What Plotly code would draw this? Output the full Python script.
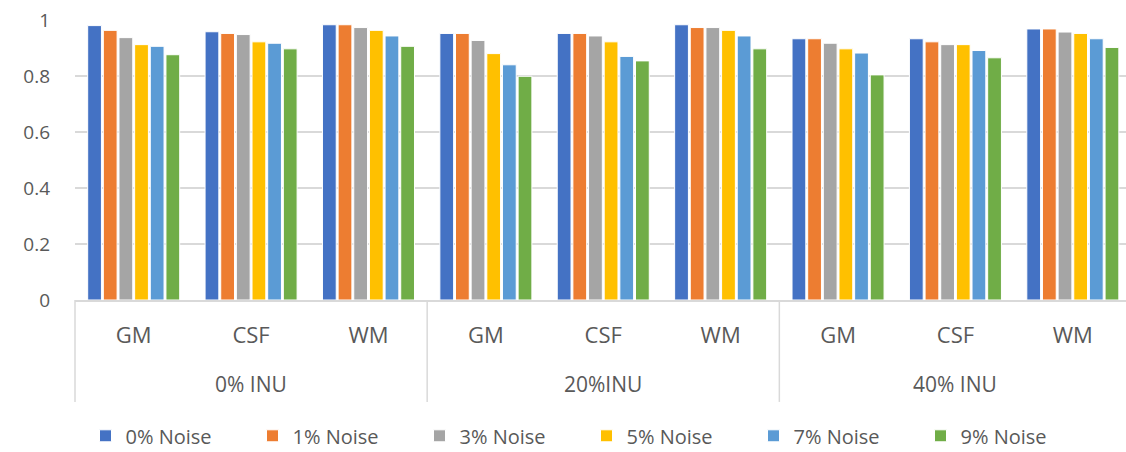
import plotly.graph_objects as go

# Tissue classes within each intensity-nonuniformity (INU) level
inu_levels = ["0% INU", "20%INU", "40% INU"]
tissues = ["GM", "CSF", "WM"]

noise_labels = ["0% Noise", "1% Noise", "3% Noise", "5% Noise", "7% Noise", "9% Noise"]

# Scores per noise level, ordered INU level -> tissue (GM, CSF, WM)
noise_0 = [0.980, 0.958, 0.983, 0.952, 0.952, 0.983, 0.933, 0.933, 0.968]
noise_1 = [0.963, 0.952, 0.983, 0.952, 0.952, 0.973, 0.933, 0.922, 0.968]
noise_3 = [0.937, 0.948, 0.973, 0.927, 0.943, 0.973, 0.917, 0.912, 0.957]
noise_5 = [0.912, 0.922, 0.963, 0.880, 0.922, 0.963, 0.897, 0.912, 0.952]
noise_7 = [0.906, 0.917, 0.943, 0.840, 0.870, 0.943, 0.882, 0.891, 0.933]
noise_9 = [0.876, 0.897, 0.906, 0.799, 0.854, 0.897, 0.804, 0.865, 0.902]

series = [noise_0, noise_1, noise_3, noise_5, noise_7, noise_9]
colors = ["#4472C4", "#ED7D31", "#A5A5A5", "#FFC000", "#5B9BD5", "#70AD47"]

TEXT = "#595959"
GRID = "#d9d9d9"
FONT = "Open Sans"

n_cat = len(inu_levels) * len(tissues)
x_pos = list(range(n_cat))
x_text = [t for _ in inu_levels for t in tissues]
x_range = [-0.5, 8.453]

fig = go.Figure()
for name, vals, col in zip(noise_labels, series, colors):
    fig.add_trace(go.Bar(
        x=x_pos, y=vals, name=name,
        marker=dict(color=col, line=dict(color="white", width=1)),
    ))


def to_paper(xv):
    return (xv - x_range[0]) / (x_range[1] - x_range[0])


shapes = []
for g in range(len(inu_levels)):
    xv = g * len(tissues) - 0.5
    px = to_paper(xv)
    shapes.append(dict(type="line", xref="paper", yref="paper",
                       x0=px, x1=px, y0=0, y1=-0.364,
                       line=dict(color=GRID, width=1.5)))

annotations = []
for g, lvl in enumerate(inu_levels):
    annotations.append(dict(
        x=g * len(tissues) + 1, xref="x", y=-0.3, yref="paper",
        text=lvl, showarrow=False, yanchor="middle",
        font=dict(family=FONT, size=21, color=TEXT),
    ))

fig.update_layout(
    width=1126, height=452,
    margin=dict(l=75, r=0, t=20, b=152, autoexpand=False),
    paper_bgcolor="white", plot_bgcolor="white",
    barmode="group", bargap=0.2, bargroupgap=0.12,
    font=dict(family=FONT, color=TEXT),
    shapes=shapes, annotations=annotations,
    legend=dict(
        orientation="h", x=0.01, xanchor="left", y=-0.485, yanchor="middle",
        entrywidth=122, entrywidthmode="pixels",
        font=dict(family=FONT, size=20, color=TEXT),
    ),
    xaxis=dict(
        range=x_range, tickmode="array", tickvals=x_pos, ticktext=x_text,
        showgrid=False, zeroline=False, showline=True, automargin=False,
        linecolor=GRID, linewidth=1.5, ticks="",
        tickfont=dict(family=FONT, size=22, color=TEXT),
        ticklabelstandoff=15,
    ),
    yaxis=dict(
        range=[0, 1], tickmode="array", automargin=False,
        tickvals=[0, 0.2, 0.4, 0.6, 0.8, 1],
        ticktext=["0", "0.2", "0.4", "0.6", "0.8", "1"],
        showgrid=True, gridcolor=GRID, gridwidth=1.5,
        zeroline=False, showline=False, ticks="",
        tickfont=dict(family=FONT, size=19, color=TEXT),
        ticklabelstandoff=24,
    ),
)

fig.write_html("out.html")
